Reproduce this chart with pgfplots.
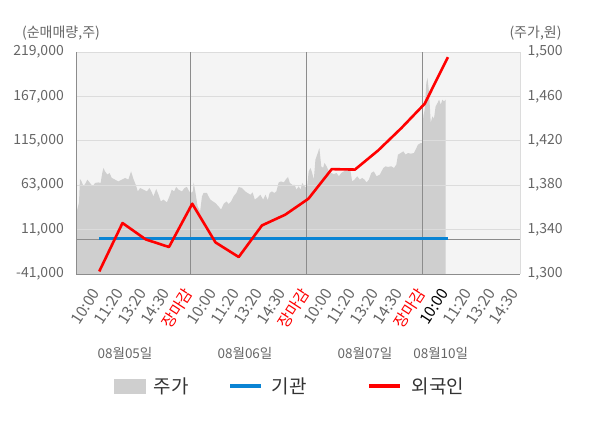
\documentclass[border=0pt]{standalone}
\usepackage{pgfplots}
\pgfplotsset{compat=1.18}
\usepackage{pgfplotstable}
\usepackage{fontspec}
\setmainfont{Noto Sans CJK KR}
\definecolor{bgc}{HTML}{F4F4F4}
\definecolor{areac}{HTML}{CFCFCF}
\definecolor{gridc}{HTML}{DCDCDC}
\definecolor{axc}{HTML}{8C8C8C}
\definecolor{txt}{HTML}{666666}
\definecolor{blu}{HTML}{0A84D4}
\definecolor{legtxt}{HTML}{333333}
\pgfplotstableread{
x p
0 1353
0.06 1358.6
0.13 1364.5
0.17 1385.6
0.24 1383.4
0.32 1379
0.42 1382
0.49 1385
0.6 1382
0.72 1379
0.82 1382
0.96 1382.5
1.06 1382
1.13 1391
1.18 1395.5
1.25 1392.4
1.35 1389.5
1.44 1391
1.54 1386.5
1.68 1385
1.82 1383.4
1.97 1385
2.11 1386.5
2.25 1385
2.37 1392.4
2.47 1385.6
2.57 1380.4
2.66 1374.4
2.76 1377.5
2.9 1376
3.05 1374.4
3.16 1377.5
3.26 1373.5
3.33 1369.9
3.45 1376.6
3.55 1371.4
3.65 1365.4
3.76 1367
3.91 1364.5
4.02 1370
4.12 1376
4.22 1374.4
4.31 1378.4
4.41 1376
4.56 1374.4
4.67 1377.5
4.77 1378.4
4.87 1374.4
4.94 1373
5.03 1374.4
5.06 1382.5
5.13 1374.4
5.23 1361
5.34 1356.4
5.42 1370
5.49 1373
5.63 1373
5.7 1370
5.78 1367
5.89 1365.4
5.99 1364
6.13 1361
6.24 1358
6.35 1363
6.47 1365.4
6.57 1363
6.67 1365.4
6.78 1370
6.9 1373
7.0 1378.4
7.14 1377.5
7.28 1374.4
7.38 1373
7.5 1371.4
7.6 1373.5
7.69 1367
7.79 1368.5
7.93 1371.4
8.05 1367
8.15 1371.4
8.25 1366.5
8.33 1373
8.43 1374.4
8.53 1373
8.62 1374.4
8.72 1382.5
8.82 1383.4
8.94 1382.5
9.04 1385.6
9.12 1387.4
9.2 1382
9.3 1380.4
9.41 1380.4
9.48 1376
9.58 1379
9.66 1376
9.73 1382
9.83 1379
9.94 1377.5
10.01 1392.4
10.09 1395.5
10.16 1391
10.23 1385
10.3 1403
10.4 1409
10.47 1413.5
10.55 1397
10.63 1395.5
10.69 1400
10.78 1397
10.88 1392.4
10.98 1391
11.09 1390
11.21 1391
11.31 1388
11.41 1391
11.52 1392.4
11.64 1395.5
11.74 1394
11.81 1392.4
11.88 1383.4
11.98 1385
12.1 1388
12.21 1385
12.31 1386.5
12.41 1385
12.5 1382.5
12.6 1385
12.7 1391
12.81 1392.4
12.93 1388
13.07 1389.5
13.22 1395.5
13.32 1397
13.42 1396.4
13.56 1397
13.68 1395.5
13.78 1398.5
13.85 1407.5
13.97 1409
14.08 1410.5
14.18 1407.5
14.28 1409
14.4 1408.4
14.54 1409
14.61 1412
14.71 1416.5
14.83 1418
14.9 1418
14.94 1442
15.0 1448
15.07 1472
15.12 1476.6
15.19 1463
15.26 1436
15.33 1442
15.4 1440
15.47 1451
15.55 1454
15.62 1457
15.69 1452.5
15.76 1457
15.83 1455.5
15.9 1457
}\price
\pgfplotstableread{
x v
1 -38000
2 18700
3 -500
4 -9400
5 41300
6 -4000
7 -21100
8 15900
9 28450
10 47200
11 81800
12 81300
13 103750
14 130000
15 158400
16 213000
}\foreign
\pgfplotstableread{
x v
1 0
16 0
}\inst
\begin{document}
\begin{tikzpicture}
\useasboundingbox (0bp,0bp) rectangle (600bp,428bp);
\begin{axis}[at={(76bp,154bp)}, anchor=south west, scale only axis,
  width=444bp, height=222bp,
  xmin=0, xmax=19.1, ymin=1300, ymax=1500,
  axis background/.style={fill=bgc},
  axis x line=none, axis y line*=right,
  y axis line style={draw=gridc, line width=0.8bp},
  ytick={1300,1340,1380,1420,1460,1500},
  major tick length=0,
  scaled y ticks=false,
  yticklabel style={font=\fontsize{14bp}{16bp}\selectfont, text=txt, inner sep=0pt, xshift=7.5bp, anchor=west},
  /pgf/number format/.cd, fixed, 1000 sep={,}, assume math mode=true,
]
\addplot[fill=areac, draw=none] table[x=x,y=p] {\price} \closedcycle;
\end{axis}
\begin{axis}[at={(76bp,154bp)}, anchor=south west, scale only axis,
  width=444bp, height=222bp,
  xmin=0, xmax=19.1, ymin=-41000, ymax=219000,
  axis x line*=bottom, axis y line*=left,
  axis line style={draw=axc, line width=0.8bp},
  ytick={-41000,11000,63000,115000,167000,219000},
  ymajorgrids, major grid style={draw=gridc, line width=0.8bp},
  extra y ticks={0}, extra y tick labels={},
  extra y tick style={grid=major, major grid style={draw=axc, line width=0.8bp}},
  xtick={1,...,19},
  xticklabels={10:00,11:20,13:20,14:30,\textcolor{red}{장마감},10:00,11:20,13:20,14:30,\textcolor{red}{장마감},10:00,11:20,13:20,14:30,\textcolor{red}{장마감},\textcolor{black}{10:00},11:20,13:20,14:30},
  extra x ticks={4.92,9.92,14.92}, extra x tick labels={},
  extra x tick style={grid=major, major grid style={draw=axc, line width=0.8bp}},
  major tick length=0,
  scaled y ticks=false,
  yticklabel style={font=\fontsize{14bp}{16bp}\selectfont, text=txt, inner sep=0pt, xshift=-12bp, anchor=east},
  xticklabel style={font=\fontsize{15.5bp}{17bp}\selectfont, text=txt, inner sep=0pt, xshift=1.5bp, yshift=-19.2bp, rotate=57, anchor=base east},
  legend columns=3,
  legend style={at={(0.079,-0.5045)}, anchor=west, draw=none, fill=none,
    nodes={inner sep=0pt, font=\fontsize{19bp}{21bp}\selectfont, text=legtxt},
    column sep=0pt},
  /pgf/number format/.cd, fixed, 1000 sep={,}, assume math mode=true,
]
\addlegendimage{legend image code/.code={\fill[areac] (0bp,-7bp) rectangle (31bp,7bp);}}
\addlegendentry[text width=83bp]{\hspace*{8bp}주가}
\addplot[blu, line width=3bp, legend image code/.code={\draw[blu, line width=3bp] (0bp,0bp) -- (31bp,0bp);}] table[x=x,y=v] {\inst};
\addlegendentry[text width=105bp]{\hspace*{9bp}기관}
\addplot[red, line width=2.6bp, line join=round, legend image code/.code={\draw[red, line width=3bp] (0bp,0bp) -- (31bp,0bp);}] table[x=x,y=v] {\foreign};
\addlegendentry[text width=75bp]{\hspace*{10bp}외국인}
\end{axis}
\node[font=\fontsize{14bp}{16bp}\selectfont, text=txt] at (61bp,395bp) {(순매매량,주)};
\node[font=\fontsize{14bp}{16bp}\selectfont, text=txt] at (535.5bp,395bp) {(주가,원)};
\node[font=\fontsize{13.5bp}{16bp}\selectfont, text=txt] at (125bp,75bp) {08월05일};
\node[font=\fontsize{13.5bp}{16bp}\selectfont, text=txt] at (245bp,75bp) {08월06일};
\node[font=\fontsize{13.5bp}{16bp}\selectfont, text=txt] at (365bp,75bp) {08월07일};
\node[font=\fontsize{13.5bp}{16bp}\selectfont, text=txt] at (440.7bp,75bp) {08월10일};
\end{tikzpicture}
\end{document}
